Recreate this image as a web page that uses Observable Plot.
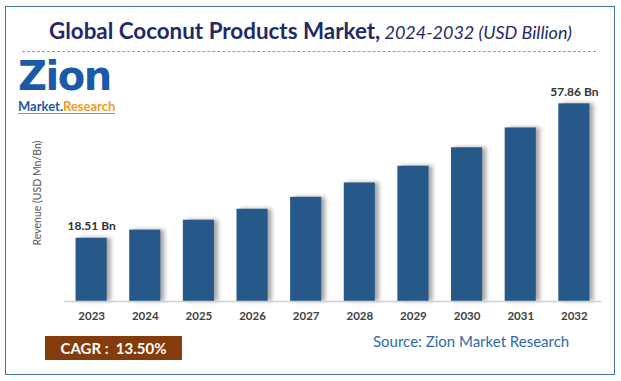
<!DOCTYPE html>
<html>
<head>
<meta charset="utf-8">
<script src="https://cdn.jsdelivr.net/npm/d3@7"></script>
<script src="https://cdn.jsdelivr.net/npm/@observablehq/plot@0.6"></script>
<style>
  html, body { margin: 0; padding: 0; background: #fff; }
  #wrap { position: relative; width: 621px; height: 381px; overflow: hidden; font-family: Lato, "Open Sans", sans-serif; }
  #frame { position: absolute; left: 5px; top: 6px; width: 608px; height: 367px; border: 1.5px solid #4374aa; box-sizing: content-box; }
  #title { position: absolute; left: 0; width: 621px; top: 17px; text-align: center; color: #1f2a68; white-space: nowrap; }
  #title b { font-size: 22.4px; font-weight: 700; }
  #title i { font-size: 18px; font-weight: 400; }
  #dash { position: absolute; left: 22px; width: 574px; top: 51px; border-top: 1px dashed #7a9fd0; }
  #logo { position: absolute; left: 18px; top: 57px; }
  #logo .zion { font-size: 40px; font-weight: 900; color: #1b5aa8; letter-spacing: -1.5px; line-height: 38px; font-family: "DejaVu Sans", sans-serif; }
  #logo .mr { font-size: 13px; font-weight: 700; line-height: 13px; margin-top: 1px; border-bottom: 1px solid #6a9ad0; display: inline-block; }
  #cagr { position: absolute; left: 45px; top: 336px; width: 137px; height: 24px; background: #843c0c; color: #fff; font-weight: 700; font-size: 15px; line-height: 24px; text-align: center; }
  #source { position: absolute; left: 373px; top: 332px; color: #2e6aa8; font-size: 15px; white-space: nowrap; }
  #chart { position: absolute; left: 0; top: 0; }
</style>
</head>
<body>
<div id="wrap">
  <div id="chart"></div>
  <div id="frame"></div>
  <div id="title"><b>Global Coconut Products Market,</b> <i>2024-2032 (USD Billion)</i></div>
  <div id="dash"></div>
  <div id="logo">
    <div class="zion">Zion</div>
    <div class="mr"><span style="color:#1b5aa8">Market</span><span style="color:#1b5aa8">.</span><span style="color:#f39a1e">Research</span></div>
  </div>
  <div id="cagr">CAGR :&nbsp; 13.50%</div>
  <div id="source">Source: Zion Market Research</div>
</div>
<script>
const years = ["2023","2024","2025","2026","2027","2028","2029","2030","2031","2032"];
const revenue = [18.51, 20.9, 23.8, 27.0, 30.5, 34.7, 39.6, 45.0, 50.8, 57.86];
const labels = ["18.51 Bn", "", "", "", "", "", "", "", "", "57.86 Bn"];

const data = years.map((y, i) => ({year: y, value: revenue[i], label: labels[i]}));

const chart = Plot.plot({
  width: 621,
  height: 381,
  marginLeft: 64,
  marginRight: 20,
  marginTop: 96,
  marginBottom: 80,
  style: {background: "transparent", fontFamily: "Lato, 'Open Sans', sans-serif"},
  x: {domain: years, paddingInner: 0.42, paddingOuter: 0.216, round: false, label: null},
  y: {domain: [0, 60], label: null, axis: null},
  marks: [
    Plot.barY(data, {x: "year", y: "value", fill: "#27588a"}),
    Plot.ruleY([0], {stroke: "#d0d0d0", strokeWidth: 1.5}),
    Plot.text(data, {x: "year", y: "value", text: "label", dy: -12, fontWeight: "bold", fontSize: 12, fill: "#333"}),
    Plot.axisX({tickSize: 0, tickPadding: 10, fontWeight: "bold", fontSize: 11.5, color: "#404040", label: null}),
    Plot.text(["Revenue (USD Mn/Bn)"], {frameAnchor: "left", textAnchor: "middle", dx: -27, dy: -6, rotate: -90, fontSize: 10.5, fill: "#555"})
  ]
});
document.getElementById("chart").appendChild(chart);
d3.select(chart).selectAll("g[aria-label=bar] rect").style("filter", "drop-shadow(4px 0px 2px rgba(0,0,0,0.35))");
</script>
</body>
</html>
